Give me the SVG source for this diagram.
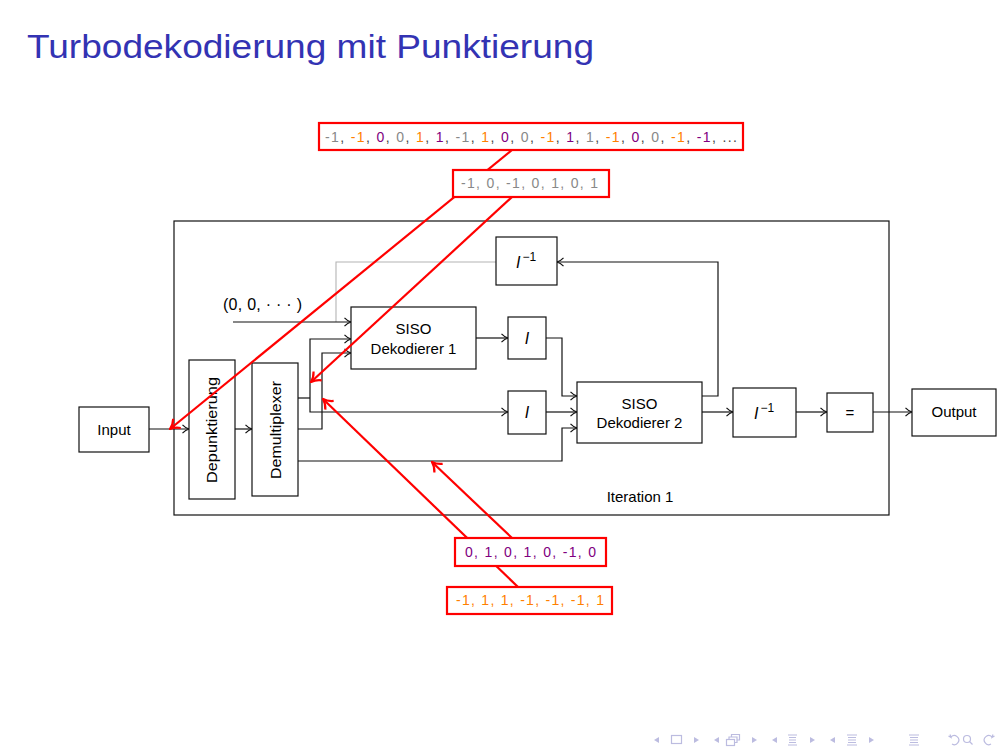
<svg xmlns="http://www.w3.org/2000/svg" width="1008" height="756" viewBox="0 0 1008 756">
  <style>
    .box { fill: #fff; stroke: #111; stroke-width: 1.2; }
    .frame { fill: none; stroke: #111; stroke-width: 1.2; }
    .lbl { font-family: "Liberation Sans", Arial, sans-serif; font-size: 15px; fill: #000; text-anchor: middle; }
    .math { font-family: "Liberation Sans", Arial, sans-serif; font-style: italic; font-size: 16px; fill: #000; text-anchor: middle; }
    .wire { fill: none; stroke: #111; stroke-width: 1.2; }
    .wire-a { fill: none; stroke: #111; stroke-width: 1.2; marker-end: url(#arr); }
    .grey { fill: none; stroke: #b4b4b4; stroke-width: 1.1; }
    .note { fill: none; stroke: #f00; stroke-width: 2.2; marker-end: url(#rarr); }
    .rbox { fill: #fff; stroke: #f00; stroke-width: 2.2; }
    .seq { font-family: "Liberation Sans", Arial, sans-serif; font-size: 14px; fill: #444; }
    .g { fill: #888; }
    .o { fill: #ff8000; }
    .p { fill: #800080; }
    .nav { fill: none; stroke: #bcbce0; stroke-width: 1.2; }
    .navf { fill: #bcbce0; }
  </style>
  <defs>
    <marker id="arr" viewBox="-8 -5 9 10" markerWidth="9" markerHeight="10" refX="0" refY="0" orient="auto" markerUnits="userSpaceOnUse">
      <path d="M-6.5,-4.2 C-4,-1.6 -1.4,-0.4 0,0 C-1.4,0.4 -4,1.6 -6.5,4.2" fill="none" stroke="#111" stroke-width="1.2"/>
    </marker>
    <marker id="rarr" viewBox="-11 -8 12 16" markerWidth="12" markerHeight="16" refX="0" refY="0" orient="auto" markerUnits="userSpaceOnUse">
      <path d="M-9,-6 C-6,-2.5 -2,-0.6 0,0 C-2,0.6 -6,2.5 -9,6" fill="none" stroke="#f00" stroke-width="2.2"/>
    </marker>
  </defs>

  <rect width="1008" height="756" fill="#fff"/>

  <!-- slide title -->
  <text x="27" y="58" font-family="Liberation Sans, Arial, sans-serif" font-size="34" fill="#3333b3" textLength="567" lengthAdjust="spacingAndGlyphs">Turbodekodierung mit Punktierung</text>

  <!-- iteration frame -->
  <g id="iteration">
    <rect class="frame" x="174" y="221" width="715" height="294"/>
    <text class="lbl" x="640" y="502">Iteration 1</text>
  </g>

  <!-- connectors -->
  <g id="connectors">
    <path class="wire-a" d="M149,429 H189"/>
    <path class="wire-a" d="M235,429 H252"/>
    <path class="wire" d="M298,398 H310"/>
    <path class="wire-a" d="M310,398 V339 H351"/>
    <path class="wire-a" d="M310,398 V412 H508"/>
    <path class="wire-a" d="M298,429 H322 V353 H351"/>
    <path class="wire-a" d="M298,461 H562 V428 H577"/>
    <path class="grey" d="M496,262 H336 V322"/>
    <path class="wire-a" d="M233,322 H351"/>
    <path class="wire-a" d="M476,338 H508"/>
    <path class="wire-a" d="M546,338 H562 V396 H577"/>
    <path class="wire-a" d="M546,412 H577"/>
    <path class="wire-a" d="M702,396 H718 V262 H557"/>
    <path class="wire-a" d="M702,412 H733"/>
    <path class="wire-a" d="M796,412 H827"/>
    <path class="wire-a" d="M873,412 H912"/>
  </g>

  <text id="zero-input" x="223" y="310" font-family="Liberation Sans, Arial, sans-serif" font-size="16" fill="#000" textLength="79" lengthAdjust="spacing">(0, 0, · · · )</text>

  <g id="input">
    <rect class="box" x="79" y="407" width="70" height="45"/>
    <text class="lbl" x="114" y="435" font-size="16">Input</text>
  </g>
  <g id="depunktierung">
    <rect class="box" x="189" y="360" width="46" height="139"/>
    <text class="lbl" transform="translate(217,430) rotate(-90)" x="0" y="0" textLength="106" lengthAdjust="spacingAndGlyphs">Depunktierung</text>
  </g>
  <g id="demultiplexer">
    <rect class="box" x="252" y="363" width="46" height="133"/>
    <text class="lbl" transform="translate(281,430) rotate(-90)" x="0" y="0" textLength="98" lengthAdjust="spacingAndGlyphs">Demultiplexer</text>
  </g>
  <g id="siso1">
    <rect class="box" x="351" y="307" width="125" height="62"/>
    <text class="lbl" x="413.5" y="334">SISO</text>
    <text class="lbl" x="413.5" y="354">Dekodierer 1</text>
  </g>
  <g id="interleaver1">
    <rect class="box" x="508" y="317" width="38" height="42"/>
    <text class="math" x="527" y="344">I</text>
  </g>
  <g id="interleaver2">
    <rect class="box" x="508" y="391" width="38" height="43"/>
    <text class="math" x="527" y="418">I</text>
  </g>
  <g id="deinterleaver-feedback">
    <rect class="box" x="496" y="237" width="61" height="48"/>
    <text class="math" x="526" y="268">I<tspan font-style="normal" font-size="12" dx="2" dy="-7">−1</tspan></text>
  </g>
  <g id="siso2">
    <rect class="box" x="577" y="382" width="125" height="61"/>
    <text class="lbl" x="639.5" y="409">SISO</text>
    <text class="lbl" x="639.5" y="428">Dekodierer 2</text>
  </g>
  <g id="deinterleaver-out">
    <rect class="box" x="733" y="388" width="63" height="49"/>
    <text class="math" x="764" y="419">I<tspan font-style="normal" font-size="12" dx="2" dy="-7">−1</tspan></text>
  </g>
  <g id="decision">
    <rect class="box" x="827" y="393" width="46" height="39"/>
    <text class="lbl" x="850" y="418" fill="#444">=</text>
  </g>
  <g id="output">
    <rect class="box" x="912" y="389" width="84" height="47"/>
    <text class="lbl" x="954" y="417" font-size="16">Output</text>
  </g>

  <!-- annotation arrows -->
  <g id="annotation-connectors">
    <path class="note" d="M512,150 L170,429"/>
    <path class="note" d="M512,197 L311,382"/>
    <path class="note" d="M518,587 L323,399"/>
    <path class="note" d="M512,538 L432,462"/>
  </g>

  <g id="seq-received">
    <rect class="rbox" x="319" y="123" width="424" height="27"/>
    <text class="seq" x="325" y="142" textLength="412" lengthAdjust="spacing"><tspan class="g">-1</tspan>, <tspan class="o">-1</tspan>, <tspan class="p">0</tspan>, <tspan class="g">0</tspan>, <tspan class="o">1</tspan>, <tspan class="p">1</tspan>, <tspan class="g">-1</tspan>, <tspan class="o">1</tspan>, <tspan class="p">0</tspan>, <tspan class="g">0</tspan>, <tspan class="o">-1</tspan>, <tspan class="p">1</tspan>, <tspan class="g">1</tspan>, <tspan class="o">-1</tspan>, <tspan class="p">0</tspan>, <tspan class="g">0</tspan>, <tspan class="o">-1</tspan>, <tspan class="p">-1</tspan>, ...</text>
  </g>
  <g id="seq-systematic">
    <rect class="rbox" x="453" y="170" width="156" height="27"/>
    <text class="seq g" x="461" y="188" textLength="137" lengthAdjust="spacing">-1, 0, -1, 0, 1, 0, 1</text>
  </g>
  <g id="seq-parity1">
    <rect class="rbox" x="455" y="538" width="151" height="28"/>
    <text class="seq p" x="465" y="557" textLength="131" lengthAdjust="spacing">0, 1, 0, 1, 0, -1, 0</text>
  </g>
  <g id="seq-parity2">
    <rect class="rbox" x="447" y="587" width="165" height="27"/>
    <text class="seq o" x="456" y="605" textLength="148" lengthAdjust="spacing">-1, 1, 1, -1, -1, -1, 1</text>
  </g>

  <!-- navigation symbols -->
  <g id="navigation">
    <polygon class="navf" points="654,740 659,737 659,743"/>
    <rect class="nav" x="671.5" y="735.5" width="10" height="8"/>
    <polygon class="navf" points="699,740 694,737 694,743"/>
    <polygon class="navf" points="714,740 719,737 719,743"/>
    <rect class="nav" x="726.5" y="739.5" width="8" height="6"/>
    <path class="nav" d="M729,739.5 V737 H737 V742.5 H734.5 M731.5,737 V734.5 H739.5 V740 H737"/>
    <polygon class="navf" points="757,740 752,737 752,743"/>
    <polygon class="navf" points="772,740 777,737 777,743"/>
    <path class="nav" d="M788,735 H797 M789,737.5 H796 M789,740 H796 M789,742.5 H796 M788,745 H797"/>
    <polygon class="navf" points="815,740 810,737 810,743"/>
    <polygon class="navf" points="830,740 835,737 835,743"/>
    <path class="nav" d="M847,735 H857 M848,737.5 H856 M848,740 H856 M848,742.5 H856 M847,745 H857"/>
    <polygon class="navf" points="874,740 869,737 869,743"/>
    <path class="nav" d="M909,735 H919 M910,737.5 H918 M910,740 H918 M910,742.5 H918 M909,745 H919"/>
    <path class="nav" d="M951,737 A4.5,4.5 0 1 1 952,744 M948.5,736 L951,737.5 L950,734.5"/>
    <circle class="nav" cx="967" cy="739" r="3.5"/>
    <path class="nav" d="M969.5,741.5 L972.5,744.5"/>
    <path class="nav" d="M992,737 A4.5,4.5 0 1 0 991,744 M994.5,736 L992,737.5 L993,734.5"/>
  </g>
</svg>
